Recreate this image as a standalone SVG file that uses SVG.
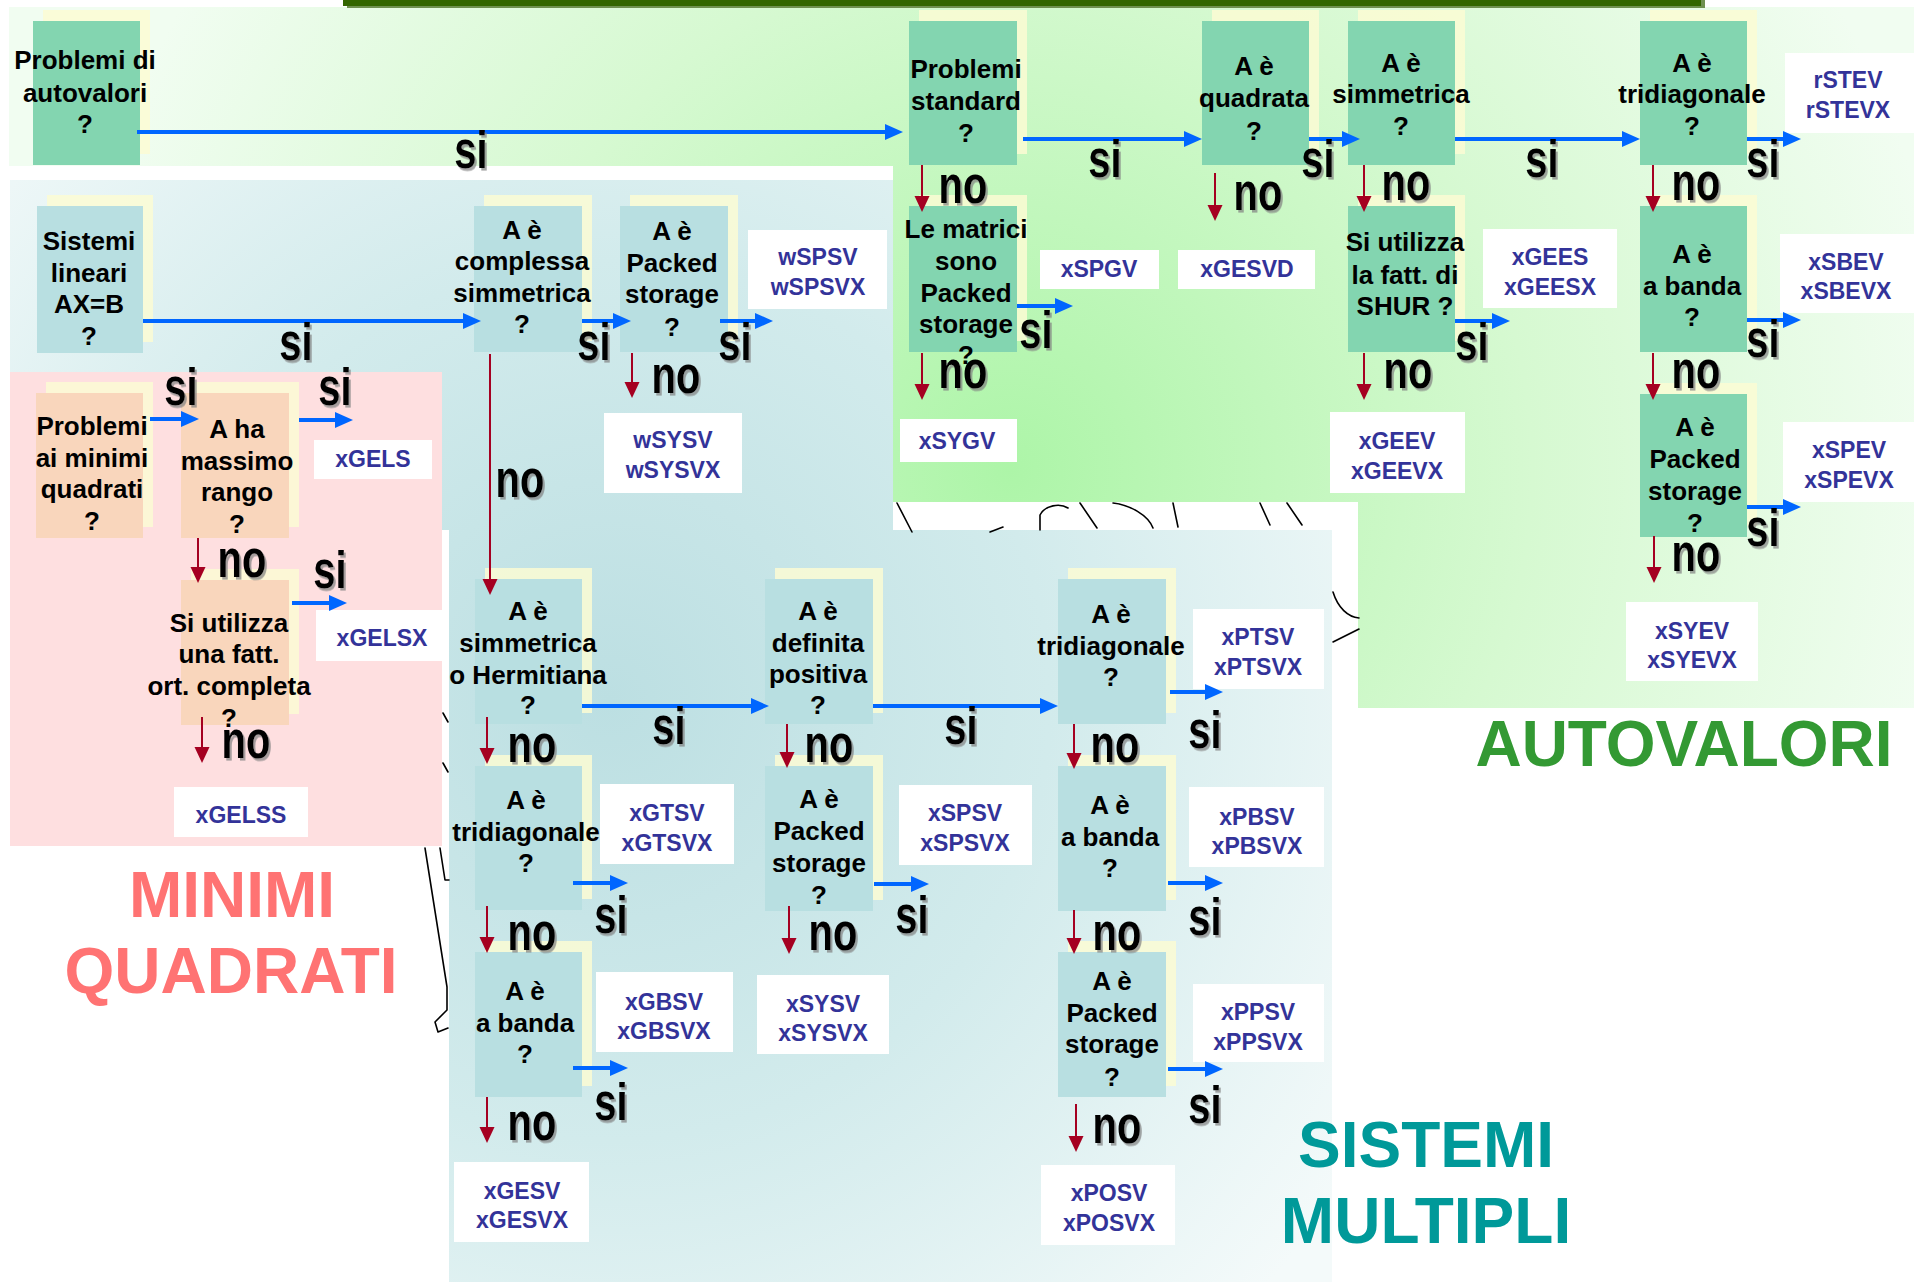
<svg xmlns="http://www.w3.org/2000/svg" width="1914" height="1282" viewBox="0 0 1914 1282">
  <defs>
    <radialGradient id="gEig" gradientUnits="userSpaceOnUse" cx="1010" cy="470" r="950">
      <stop offset="0" stop-color="#adf5a8"/>
      <stop offset="0.55" stop-color="#d6f9d1"/>
      <stop offset="1" stop-color="#f1fdf1"/>
    </radialGradient>
    <radialGradient id="gSys" gradientUnits="userSpaceOnUse" cx="610" cy="700" r="880">
      <stop offset="0" stop-color="#bcdfe2"/>
      <stop offset="0.5" stop-color="#d2ebec"/>
      <stop offset="1" stop-color="#f4fafa"/>
    </radialGradient>
    <marker id="hb" markerUnits="userSpaceOnUse" markerWidth="18" markerHeight="16" viewBox="0 0 18 16" refX="3" refY="8" orient="auto">
      <path d="M0,0 L18,8 L0,16 z" fill="#0066ff"/>
    </marker>
    <marker id="hr" markerUnits="userSpaceOnUse" markerWidth="16" markerHeight="16" viewBox="0 0 16 16" refX="3" refY="8" orient="auto">
      <path d="M0,0.5 L16,8 L0,15.5 z" fill="#a50021"/>
    </marker>
    <filter id="tsh" x="-20%" y="-20%" width="150%" height="150%">
      <feDropShadow dx="2" dy="2" stdDeviation="0.6" flood-color="#808080" flood-opacity="0.7"/>
    </filter>
  </defs>
  <style>
    .q { font-family: "Liberation Sans", Arial, sans-serif; font-weight: bold; font-size: 26px; fill: #000; text-anchor: middle; }
    .r { font-family: "Liberation Sans", Arial, sans-serif; font-weight: bold; font-size: 23px; fill: #333399; text-anchor: middle; }
    .yn { font-family: "Liberation Sans", Arial, sans-serif; font-weight: bold; font-size: 40px; fill: #000; text-anchor: middle; filter: url(#tsh); }
    .big { font-family: "Liberation Sans", Arial, sans-serif; font-weight: bold; font-size: 64px; text-anchor: middle; }
    .av { fill: #83d5b0; }
    .sl { fill: #b8dfe1; }
    .mq { fill: #f9d6bc; }
    .sh { fill: #fbfbd3; opacity: 0.85; }
    .res { fill: #ffffff; }
    .ab { stroke: #0066ff; stroke-width: 4; fill: none; marker-end: url(#hb); }
    .ar { stroke: #a50021; stroke-width: 2; fill: none; marker-end: url(#hr); }
    .sk { stroke: #000; stroke-width: 1.6; fill: none; stroke-linecap: round; stroke-linejoin: round; }
  </style>

  <rect x="0" y="0" width="1914" height="1282" fill="#ffffff"/>

  <!-- section backgrounds -->
  <g id="panels">
    <path d="M9,7 H1914 V708 H1358 V502 H893 V166 H9 Z" fill="url(#gEig)"/>
    <path d="M10,180 H893 V530 H1332 V1282 H449 V530 H10 Z" fill="url(#gSys)"/>
    <rect x="10" y="372" width="432" height="474" fill="#fedfe0"/>
  </g>

  <!-- stray strokes of the sketch behind the panels -->
  <g id="sketch">
    <path class="sk" d="M897,503 L912,532"/>
    <path class="sk" d="M990,532 L1003,527"/>
    <path class="sk" d="M1040,530 L1040,515 C1045,505 1060,503 1068,508"/>
    <path class="sk" d="M1080,503 L1097,528"/>
    <path class="sk" d="M1113,503 C1130,505 1148,515 1153,528"/>
    <path class="sk" d="M1173,503 L1178,527"/>
    <path class="sk" d="M1260,503 L1270,525"/>
    <path class="sk" d="M1287,503 L1302,525"/>
    <path class="sk" d="M1333,592 C1338,608 1348,617 1359,618"/>
    <path class="sk" d="M1333,642 L1359,629"/>
    <path class="sk" d="M425,848 L447,987 L447,1010 L435,1022 L438,1032 L448,1028"/>
    <path class="sk" d="M440,848 L445,880 L449,880"/>
    <path class="sk" d="M443,713 L448,722"/>
    <path class="sk" d="M443,763 L448,772"/>
  </g>

  <!-- title bar -->
  <g id="topbar">
    <rect x="347" y="-2" width="1358" height="10" fill="#6f9150"/>
    <rect x="343" y="-4" width="1358" height="10" fill="#336600"/>
  </g>

  <!-- eigenvalue decision nodes -->
  <g id="q-autovalori">
    <rect class="sh" x="43" y="10" width="107" height="144"/>
    <rect class="av" x="33" y="21" width="107" height="144"/>
    <text class="q"><tspan x="85" y="69">Problemi di</tspan><tspan x="85" y="102">autovalori</tspan><tspan x="85" y="133">?</tspan></text>
  </g>
  <g id="q-standard">
    <rect class="sh" x="919" y="10" width="108" height="144"/>
    <rect class="av" x="909" y="21" width="108" height="144"/>
    <text class="q"><tspan x="966" y="78">Problemi</tspan><tspan x="966" y="110">standard</tspan><tspan x="966" y="142">?</tspan></text>
  </g>
  <g id="q-quadrata">
    <rect class="sh" x="1212" y="10" width="107" height="144"/>
    <rect class="av" x="1202" y="21" width="107" height="144"/>
    <text class="q"><tspan x="1254" y="75">A è</tspan><tspan x="1254" y="107">quadrata</tspan><tspan x="1254" y="140">?</tspan></text>
  </g>
  <g id="q-simmetrica">
    <rect class="sh" x="1358" y="10" width="107" height="144"/>
    <rect class="av" x="1348" y="21" width="107" height="144"/>
    <text class="q"><tspan x="1401" y="72">A è</tspan><tspan x="1401" y="103">simmetrica</tspan><tspan x="1401" y="135">?</tspan></text>
  </g>
  <g id="q-tridiagonale-av">
    <rect class="sh" x="1650" y="10" width="107" height="144"/>
    <rect class="av" x="1640" y="21" width="107" height="144"/>
    <text class="q"><tspan x="1692" y="72">A è</tspan><tspan x="1692" y="103">tridiagonale</tspan><tspan x="1692" y="135">?</tspan></text>
  </g>
  <g id="q-packed-gen">
    <rect class="sh" x="919" y="195" width="108" height="146"/>
    <rect class="av" x="909" y="206" width="108" height="146"/>
    <text class="q"><tspan x="966" y="238">Le matrici</tspan><tspan x="966" y="270">sono</tspan><tspan x="966" y="302">Packed</tspan><tspan x="966" y="333">storage</tspan><tspan x="966" y="364">?</tspan></text>
  </g>
  <g id="q-shur">
    <rect class="sh" x="1358" y="195" width="107" height="146"/>
    <rect class="av" x="1348" y="206" width="107" height="146"/>
    <text class="q"><tspan x="1405" y="251">Si utilizza</tspan><tspan x="1405" y="284">la fatt. di</tspan><tspan x="1405" y="315">SHUR ?</tspan></text>
  </g>
  <g id="q-banda-av">
    <rect class="sh" x="1650" y="195" width="107" height="146"/>
    <rect class="av" x="1640" y="206" width="107" height="146"/>
    <text class="q"><tspan x="1692" y="263">A è</tspan><tspan x="1692" y="295">a banda</tspan><tspan x="1692" y="326">?</tspan></text>
  </g>
  <g id="q-packed-av">
    <rect class="sh" x="1650" y="383" width="107" height="143"/>
    <rect class="av" x="1640" y="394" width="107" height="143"/>
    <text class="q"><tspan x="1695" y="436">A è</tspan><tspan x="1695" y="468">Packed</tspan><tspan x="1695" y="500">storage</tspan><tspan x="1695" y="532">?</tspan></text>
  </g>

  <!-- linear system decision nodes -->
  <g id="q-sistemi">
    <rect class="sh" x="47" y="195" width="106" height="147"/>
    <rect class="sl" x="37" y="206" width="106" height="147"/>
    <text class="q"><tspan x="89" y="250">Sistemi</tspan><tspan x="89" y="282">lineari</tspan><tspan x="89" y="313">AX=B</tspan><tspan x="89" y="345">?</tspan></text>
  </g>
  <g id="q-complessa">
    <rect class="sh" x="484" y="195" width="108" height="146"/>
    <rect class="sl" x="474" y="206" width="108" height="146"/>
    <text class="q"><tspan x="522" y="239">A è</tspan><tspan x="522" y="270">complessa</tspan><tspan x="522" y="302">simmetrica</tspan><tspan x="522" y="333">?</tspan></text>
  </g>
  <g id="q-packed-c">
    <rect class="sh" x="630" y="195" width="108" height="146"/>
    <rect class="sl" x="620" y="206" width="108" height="146"/>
    <text class="q"><tspan x="672" y="240">A è</tspan><tspan x="672" y="272">Packed</tspan><tspan x="672" y="303">storage</tspan><tspan x="672" y="336">?</tspan></text>
  </g>
  <g id="q-hermitiana">
    <rect class="sh" x="485" y="568" width="107" height="145"/>
    <rect class="sl" x="475" y="579" width="107" height="145"/>
    <text class="q"><tspan x="528" y="620">A è</tspan><tspan x="528" y="652">simmetrica</tspan><tspan x="528" y="684">o Hermitiana</tspan><tspan x="528" y="714">?</tspan></text>
  </g>
  <g id="q-tridiagonale-ge">
    <rect class="sh" x="485" y="755" width="107" height="144"/>
    <rect class="sl" x="475" y="766" width="107" height="144"/>
    <text class="q"><tspan x="526" y="809">A è</tspan><tspan x="526" y="841">tridiagonale</tspan><tspan x="526" y="872">?</tspan></text>
  </g>
  <g id="q-banda-ge">
    <rect class="sh" x="485" y="941" width="107" height="145"/>
    <rect class="sl" x="475" y="952" width="107" height="145"/>
    <text class="q"><tspan x="525" y="1000">A è</tspan><tspan x="525" y="1032">a banda</tspan><tspan x="525" y="1063">?</tspan></text>
  </g>
  <g id="q-definita">
    <rect class="sh" x="775" y="568" width="108" height="145"/>
    <rect class="sl" x="765" y="579" width="108" height="145"/>
    <text class="q"><tspan x="818" y="620">A è</tspan><tspan x="818" y="652">definita</tspan><tspan x="818" y="683">positiva</tspan><tspan x="818" y="714">?</tspan></text>
  </g>
  <g id="q-packed-sy">
    <rect class="sh" x="775" y="755" width="108" height="145"/>
    <rect class="sl" x="765" y="766" width="108" height="145"/>
    <text class="q"><tspan x="819" y="808">A è</tspan><tspan x="819" y="840">Packed</tspan><tspan x="819" y="872">storage</tspan><tspan x="819" y="904">?</tspan></text>
  </g>
  <g id="q-tridiagonale-po">
    <rect class="sh" x="1068" y="568" width="108" height="145"/>
    <rect class="sl" x="1058" y="579" width="108" height="145"/>
    <text class="q"><tspan x="1111" y="623">A è</tspan><tspan x="1111" y="655">tridiagonale</tspan><tspan x="1111" y="686">?</tspan></text>
  </g>
  <g id="q-banda-po">
    <rect class="sh" x="1068" y="755" width="108" height="145"/>
    <rect class="sl" x="1058" y="766" width="108" height="145"/>
    <text class="q"><tspan x="1110" y="814">A è</tspan><tspan x="1110" y="846">a banda</tspan><tspan x="1110" y="877">?</tspan></text>
  </g>
  <g id="q-packed-po">
    <rect class="sh" x="1068" y="941" width="108" height="145"/>
    <rect class="sl" x="1058" y="952" width="108" height="145"/>
    <text class="q"><tspan x="1112" y="990">A è</tspan><tspan x="1112" y="1022">Packed</tspan><tspan x="1112" y="1053">storage</tspan><tspan x="1112" y="1086">?</tspan></text>
  </g>

  <!-- least squares decision nodes -->
  <g id="q-minimi">
    <rect class="sh" x="46" y="382" width="107" height="145"/>
    <rect class="mq" x="36" y="393" width="107" height="145"/>
    <text class="q"><tspan x="92" y="435">Problemi</tspan><tspan x="92" y="467">ai minimi</tspan><tspan x="92" y="498">quadrati</tspan><tspan x="92" y="530">?</tspan></text>
  </g>
  <g id="q-rango">
    <rect class="sh" x="191" y="382" width="108" height="145"/>
    <rect class="mq" x="181" y="393" width="108" height="145"/>
    <text class="q"><tspan x="237" y="438">A ha</tspan><tspan x="237" y="470">massimo</tspan><tspan x="237" y="501">rango</tspan><tspan x="237" y="533">?</tspan></text>
  </g>
  <g id="q-ortogonale">
    <rect class="sh" x="191" y="569" width="108" height="145"/>
    <rect class="mq" x="181" y="580" width="108" height="145"/>
    <text class="q"><tspan x="229" y="632">Si utilizza</tspan><tspan x="229" y="663">una fatt.</tspan><tspan x="229" y="695">ort. completa</tspan><tspan x="229" y="727">?</tspan></text>
  </g>

  <!-- routine boxes -->
  <g id="r-stev"><rect class="res" x="1785" y="53" width="129" height="80"/><text class="r"><tspan x="1848" y="88">rSTEV</tspan><tspan x="1848" y="118">rSTEVX</tspan></text></g>
  <g id="r-spgv"><rect class="res" x="1040" y="250" width="119" height="39"/><text class="r" x="1099" y="277">xSPGV</text></g>
  <g id="r-gesvd"><rect class="res" x="1178" y="250" width="137" height="39"/><text class="r" x="1247" y="277">xGESVD</text></g>
  <g id="r-gees"><rect class="res" x="1483" y="229" width="134" height="79"/><text class="r"><tspan x="1550" y="265">xGEES</tspan><tspan x="1550" y="295">xGEESX</tspan></text></g>
  <g id="r-sbev"><rect class="res" x="1780" y="234" width="134" height="79"/><text class="r"><tspan x="1846" y="270">xSBEV</tspan><tspan x="1846" y="299">xSBEVX</tspan></text></g>
  <g id="r-sygv"><rect class="res" x="900" y="419" width="117" height="43"/><text class="r" x="957" y="449">xSYGV</text></g>
  <g id="r-geev"><rect class="res" x="1330" y="412" width="135" height="81"/><text class="r"><tspan x="1397" y="449">xGEEV</tspan><tspan x="1397" y="479">xGEEVX</tspan></text></g>
  <g id="r-spev"><rect class="res" x="1783" y="422" width="131" height="80"/><text class="r"><tspan x="1849" y="458">xSPEV</tspan><tspan x="1849" y="488">xSPEVX</tspan></text></g>
  <g id="r-syev"><rect class="res" x="1626" y="602" width="132" height="79"/><text class="r"><tspan x="1692" y="639">xSYEV</tspan><tspan x="1692" y="668">xSYEVX</tspan></text></g>
  <g id="r-wspsv"><rect class="res" x="748" y="230" width="139" height="79"/><text class="r"><tspan x="818" y="265">wSPSV</tspan><tspan x="818" y="295">wSPSVX</tspan></text></g>
  <g id="r-wsysv"><rect class="res" x="604" y="413" width="138" height="80"/><text class="r"><tspan x="673" y="448">wSYSV</tspan><tspan x="673" y="478">wSYSVX</tspan></text></g>
  <g id="r-gtsv"><rect class="res" x="600" y="784" width="134" height="80"/><text class="r"><tspan x="667" y="821">xGTSV</tspan><tspan x="667" y="851">xGTSVX</tspan></text></g>
  <g id="r-spsv"><rect class="res" x="899" y="785" width="133" height="80"/><text class="r"><tspan x="965" y="821">xSPSV</tspan><tspan x="965" y="851">xSPSVX</tspan></text></g>
  <g id="r-ptsv"><rect class="res" x="1193" y="609" width="131" height="80"/><text class="r"><tspan x="1258" y="645">xPTSV</tspan><tspan x="1258" y="675">xPTSVX</tspan></text></g>
  <g id="r-pbsv"><rect class="res" x="1189" y="787" width="135" height="80"/><text class="r"><tspan x="1257" y="825">xPBSV</tspan><tspan x="1257" y="854">xPBSVX</tspan></text></g>
  <g id="r-gbsv"><rect class="res" x="596" y="972" width="137" height="80"/><text class="r"><tspan x="664" y="1010">xGBSV</tspan><tspan x="664" y="1039">xGBSVX</tspan></text></g>
  <g id="r-sysv"><rect class="res" x="757" y="975" width="132" height="79"/><text class="r"><tspan x="823" y="1012">xSYSV</tspan><tspan x="823" y="1041">xSYSVX</tspan></text></g>
  <g id="r-ppsv"><rect class="res" x="1193" y="984" width="131" height="78"/><text class="r"><tspan x="1258" y="1020">xPPSV</tspan><tspan x="1258" y="1050">xPPSVX</tspan></text></g>
  <g id="r-gesv"><rect class="res" x="454" y="1162" width="135" height="80"/><text class="r"><tspan x="522" y="1199">xGESV</tspan><tspan x="522" y="1228">xGESVX</tspan></text></g>
  <g id="r-posv"><rect class="res" x="1041" y="1165" width="134" height="80"/><text class="r"><tspan x="1109" y="1201">xPOSV</tspan><tspan x="1109" y="1231">xPOSVX</tspan></text></g>
  <g id="r-gels"><rect class="res" x="314" y="440" width="118" height="39"/><text class="r" x="373" y="467">xGELS</text></g>
  <g id="r-gelsx"><rect class="res" x="316" y="610" width="133" height="51"/><text class="r" x="382" y="646">xGELSX</text></g>
  <g id="r-gelss"><rect class="res" x="174" y="787" width="134" height="50"/><text class="r" x="241" y="823">xGELSS</text></g>

  <!-- connectors, drawn over the boxes so the heads stay visible -->
  <g id="connectors">
    <!-- autovalori -->
    <path class="ab" d="M137,132 H888"/>
    <path class="ab" d="M1023,139 H1187"/>
    <path class="ab" d="M1309,139 H1345"/>
    <path class="ab" d="M1455,139 H1625"/>
    <path class="ab" d="M1747,139 H1786"/>
    <path class="ab" d="M1017,306 H1058"/>
    <path class="ab" d="M1455,321 H1495"/>
    <path class="ab" d="M1747,320 H1786"/>
    <path class="ab" d="M1747,507 H1786"/>
    <path class="ar" d="M922,165 V199"/>
    <path class="ar" d="M1215,173 V208"/>
    <path class="ar" d="M1364,165 V199"/>
    <path class="ar" d="M1653,165 V199"/>
    <path class="ar" d="M922,353 V387"/>
    <path class="ar" d="M1364,353 V387"/>
    <path class="ar" d="M1653,353 V387"/>
    <path class="ar" d="M1654,536 V570"/>
    <!-- sistemi lineari -->
    <path class="ab" d="M143,321 H466"/>
    <path class="ab" d="M582,321 H616"/>
    <path class="ab" d="M720,321 H758"/>
    <path class="ab" d="M582,706 H754"/>
    <path class="ab" d="M873,706 H1043"/>
    <path class="ab" d="M1170,692 H1208"/>
    <path class="ab" d="M573,883 H613"/>
    <path class="ab" d="M573,1068 H613"/>
    <path class="ab" d="M874,884 H914"/>
    <path class="ab" d="M1168,883 H1208"/>
    <path class="ab" d="M1168,1069 H1208"/>
    <path class="ar" d="M490,354 V582"/>
    <path class="ar" d="M632,353 V385"/>
    <path class="ar" d="M487,717 V751"/>
    <path class="ar" d="M487,906 V940"/>
    <path class="ar" d="M487,1097 V1130"/>
    <path class="ar" d="M787,724 V755"/>
    <path class="ar" d="M789,906 V941"/>
    <path class="ar" d="M1074,724 V756"/>
    <path class="ar" d="M1074,910 V941"/>
    <path class="ar" d="M1076,1104 V1139"/>
    <!-- minimi quadrati -->
    <path class="ab" d="M150,419 H184"/>
    <path class="ab" d="M299,420 H338"/>
    <path class="ab" d="M292,603 H332"/>
    <path class="ar" d="M198,538 V570"/>
    <path class="ar" d="M202,717 V750"/>

    <!-- si / no labels -->
    <text class="yn" transform="translate(471 168) scale(1 1.3)">si</text>
    <text class="yn" transform="translate(963 203) scale(1 1.3)">no</text>
    <text class="yn" transform="translate(1105 177) scale(1 1.3)">si</text>
    <text class="yn" transform="translate(1258 210) scale(1 1.3)">no</text>
    <text class="yn" transform="translate(1318 177) scale(1 1.3)">si</text>
    <text class="yn" transform="translate(1406 200) scale(1 1.3)">no</text>
    <text class="yn" transform="translate(1542 177) scale(1 1.3)">si</text>
    <text class="yn" transform="translate(1763 177) scale(1 1.3)">si</text>
    <text class="yn" transform="translate(1696 200) scale(1 1.3)">no</text>
    <text class="yn" transform="translate(1036 348) scale(1 1.3)">si</text>
    <text class="yn" transform="translate(963 388) scale(1 1.3)">no</text>
    <text class="yn" transform="translate(1472 360) scale(1 1.3)">si</text>
    <text class="yn" transform="translate(1408 388) scale(1 1.3)">no</text>
    <text class="yn" transform="translate(1763 357) scale(1 1.3)">si</text>
    <text class="yn" transform="translate(1696 388) scale(1 1.3)">no</text>
    <text class="yn" transform="translate(1763 546) scale(1 1.3)">si</text>
    <text class="yn" transform="translate(1696 571) scale(1 1.3)">no</text>

    <text class="yn" transform="translate(296 360) scale(1 1.3)">si</text>
    <text class="yn" transform="translate(594 360) scale(1 1.3)">si</text>
    <text class="yn" transform="translate(735 360) scale(1 1.3)">si</text>
    <text class="yn" transform="translate(520 497) scale(1 1.3)">no</text>
    <text class="yn" transform="translate(676 393) scale(1 1.3)">no</text>
    <text class="yn" transform="translate(669 744) scale(1 1.3)">si</text>
    <text class="yn" transform="translate(532 762) scale(1 1.3)">no</text>
    <text class="yn" transform="translate(961 744) scale(1 1.3)">si</text>
    <text class="yn" transform="translate(829 762) scale(1 1.3)">no</text>
    <text class="yn" transform="translate(1205 748) scale(1 1.3)">si</text>
    <text class="yn" transform="translate(1115 762) scale(1 1.3)">no</text>
    <text class="yn" transform="translate(611 933) scale(1 1.3)">si</text>
    <text class="yn" transform="translate(532 950) scale(1 1.3)">no</text>
    <text class="yn" transform="translate(912 933) scale(1 1.3)">si</text>
    <text class="yn" transform="translate(833 950) scale(1 1.3)">no</text>
    <text class="yn" transform="translate(1205 935) scale(1 1.3)">si</text>
    <text class="yn" transform="translate(1117 950) scale(1 1.3)">no</text>
    <text class="yn" transform="translate(611 1120) scale(1 1.3)">si</text>
    <text class="yn" transform="translate(532 1140) scale(1 1.3)">no</text>
    <text class="yn" transform="translate(1205 1123) scale(1 1.3)">si</text>
    <text class="yn" transform="translate(1117 1143) scale(1 1.3)">no</text>

    <text class="yn" transform="translate(181 405) scale(1 1.3)">si</text>
    <text class="yn" transform="translate(335 405) scale(1 1.3)">si</text>
    <text class="yn" transform="translate(242 577) scale(1 1.3)">no</text>
    <text class="yn" transform="translate(330 588) scale(1 1.3)">si</text>
    <text class="yn" transform="translate(246 758) scale(1 1.3)">no</text>
  </g>

  <!-- section titles -->
  <g id="titles">
    <text class="big" x="1684" y="766" fill="#339933">AUTOVALORI</text>
    <text class="big" fill="#009999"><tspan x="1426" y="1167">SISTEMI</tspan><tspan x="1426" y="1243">MULTIPLI</tspan></text>
    <text class="big" fill="#ff7373"><tspan x="232" y="917">MINIMI</tspan><tspan x="231" y="993">QUADRATI</tspan></text>
  </g>
</svg>
